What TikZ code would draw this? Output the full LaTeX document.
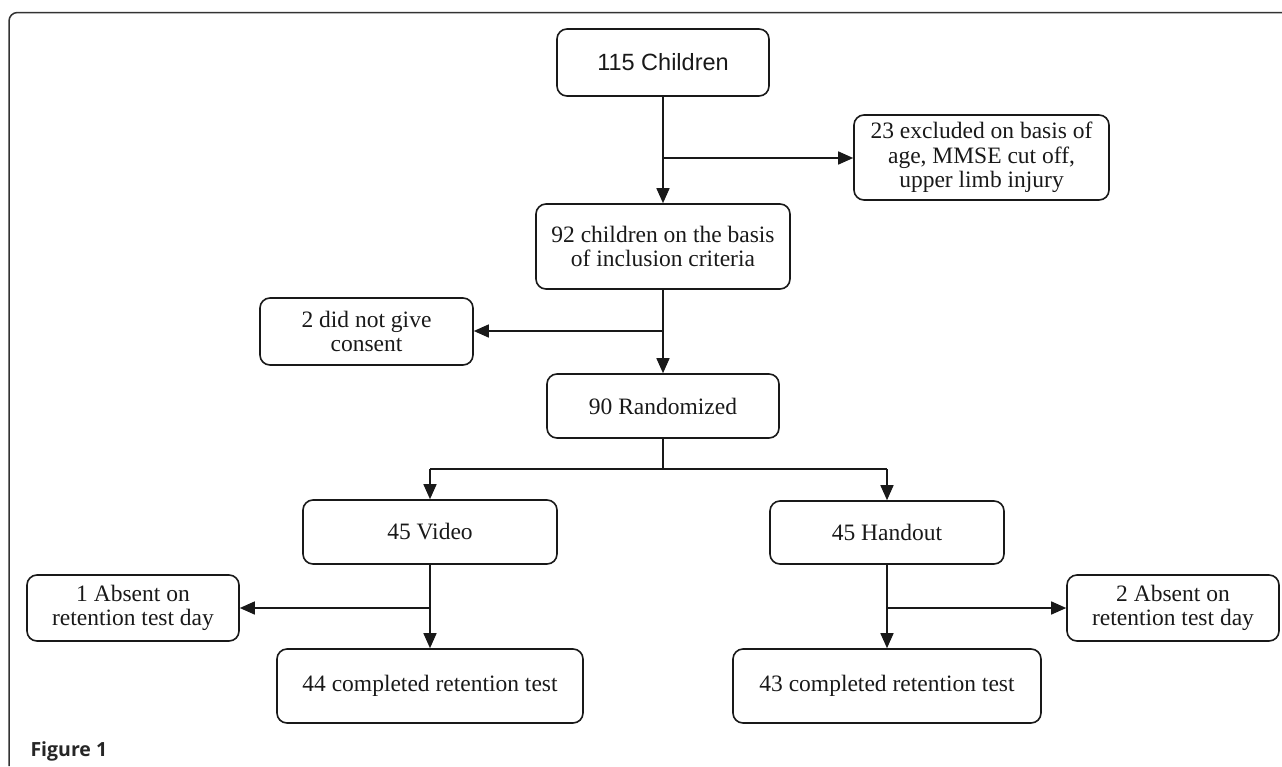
\documentclass[tikz,border=0pt]{standalone}
\usepackage{fontspec}
\setmainfont{Liberation Serif}
\newfontfamily\arialf{Liberation Sans}
\newfontfamily\figf{Open Sans}
\usetikzlibrary{arrows.meta}
\begin{document}
\begin{tikzpicture}[x=1pt,y=-1pt,
  box/.style={draw=black!90, line width=1.6pt, rounded corners=10pt, inner sep=0pt,
    align=center, font=\fontsize{23.5}{24.5}\selectfont, text=black!90},
  conn/.style={line width=1.5pt, draw=black!90},
  arr/.style={conn, -{Triangle[length=15pt,width=13pt]}}]
\useasboundingbox (0,0) rectangle (1282,766);
% outer frame
\draw[line width=1.5pt, draw=black!80, rounded corners=8.5pt] (9,766) -- (9,12.5) -- (1282,12.5);
\node[anchor=base west, font=\figf\bfseries\fontsize{19.5}{22}\selectfont, text=black!85] (fig) at (27,756) {Figure 1};
% boxes
\node[box, minimum width=212pt, minimum height=67pt, font=\arialf\fontsize{23.5}{24.5}\selectfont] (c115) at (663,62.5) {115 Children};
\node[box, minimum width=255pt, minimum height=85pt] (excl) at (981.5,157.5) {23 excluded on basis of\\age, MMSE cut off,\\upper limb injury};
\node[box, minimum width=254pt, minimum height=85pt] (n92) at (663,246.5) {92 children on the basis\\of inclusion criteria};
\node[box, minimum width=213pt, minimum height=67pt] (cons) at (366.5,331.5) {2 did not give\\consent};
\node[box, minimum width=232pt, minimum height=64pt] (rand) at (663,406) {90 Randomized};
\node[box, minimum width=254pt, minimum height=64pt] (vid) at (430,532) {45 Video};
\node[box, minimum width=234pt, minimum height=63pt] (hand) at (887,532.5) {45 Handout};
\node[box, minimum width=212pt, minimum height=66pt] (abs1) at (133,608) {1 Absent on\\retention test day};
\node[box, minimum width=306pt, minimum height=74pt] (c44) at (430,686) {44 completed retention test};
\node[box, minimum width=212pt, minimum height=66pt] (abs2) at (1173,608) {2 Absent on\\retention test day};
\node[box, minimum width=308pt, minimum height=74pt] (c43) at (887,686) {43 completed retention test};
% branch coordinates
\coordinate (b1) at (663,158);
\coordinate (b2) at (663,331);
\coordinate (b3) at (663,469);
\coordinate (b3l) at (430,469);
\coordinate (b3r) at (887,469);
\coordinate (b4) at (430,608);
\coordinate (b5) at (887,608);
% connectors
\draw[arr] (c115.south) -- (n92.north);
\draw[arr] (b1) -- (excl.west |- b1);
\draw[arr] (n92.south) -- (rand.north);
\draw[arr] (b2) -- (cons.east |- b2);
\draw[conn] (rand.south) -- (b3);
\draw[conn] (b3l) -- (b3r);
\draw[arr] (b3l) -- (vid.north);
\draw[arr] (b3r) -- (hand.north);
\draw[arr] (vid.south) -- (c44.north);
\draw[arr] (b4) -- (abs1.east |- b4);
\draw[arr] (hand.south) -- (c43.north);
\draw[arr] (b5) -- (abs2.west |- b5);
\end{tikzpicture}
\end{document}
